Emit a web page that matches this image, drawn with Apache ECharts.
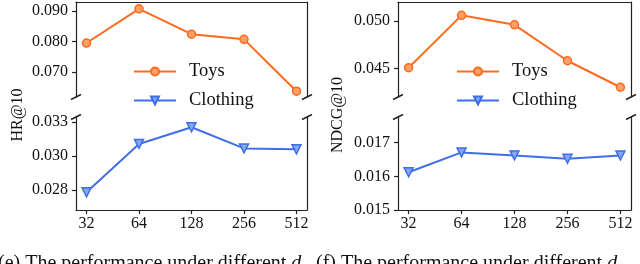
<!DOCTYPE html>
<html><head><meta charset="utf-8">
<script src="https://cdn.jsdelivr.net/npm/echarts@6/dist/echarts.min.js"></script>
<style>html,body{margin:0;padding:0;background:#fff}#c{width:640px;height:264px}</style>
</head><body><div id="c"></div>
<script>
// ---- data ----
const categories = ['32', '64', '128', '256', '512'];
const seriesNames = ['Toys', 'Clothing'];
const hrToys = [0.0795, 0.0907, 0.0824, 0.0807, 0.0637];
const hrClothing = [0.02783, 0.0314, 0.03263, 0.03107, 0.0310];
const ndcgToys = [0.04507, 0.0506, 0.0496, 0.0458, 0.0430];
const ndcgClothing = [0.01612, 0.01671, 0.01662, 0.01652, 0.01662];
const hrTopTicks = [0.070, 0.080, 0.090];
const hrTopLabels = ['0.070', '0.080', '0.090'];
const hrBottomTicks = [0.028, 0.0305, 0.033];
const hrBottomLabels = ['0.028', '0.030', '0.033'];
const ndcgTopTicks = [0.045, 0.050];
const ndcgTopLabels = ['0.045', '0.050'];
const ndcgBottomTicks = [0.015, 0.016, 0.017];
const ndcgBottomLabels = ['0.015', '0.016', '0.017'];
const yTitles = ['HR@10', 'NDCG@10'];
const captionMain = ['(e) The performance under different ', '(f) The performance under different '];
const captionVar = ['d', 'd'];

// ---- style / layout ----
const FONT = 'Liberation Serif';
const AX = '#222';
const ORANGE = '#FF6A1C';
const ORANGE_FILL = '#FFA068';
const BLUE = '#3F6FE6';
const BLUE_FILL = '#86A6F2';
const panels = [
  { left: 76, right: 307, legendLeft: 133, titleX: 18, capX: -2,
    top: { min: 0.0618, max: 0.09295, ticks: hrTopTicks, labels: hrTopLabels, toys: hrToys },
    bottom: { min: 0.02652, max: 0.03339, ticks: hrBottomTicks, labels: hrBottomLabels, cloth: hrClothing } },
  { left: 398, right: 631, legendLeft: 456, titleX: 338, capX: 316,
    top: { min: 0.04197, max: 0.05201, ticks: ndcgTopTicks, labels: ndcgTopLabels, toys: ndcgToys },
    bottom: { min: 0.015, max: 0.01776, ticks: ndcgBottomTicks, labels: ndcgBottomLabels, cloth: ndcgClothing } }
];
const TOP_Y = 2, BREAK_TOP = 97, BREAK_BOTTOM = 117, BOTTOM_Y = 210;
const xIdx = categories.map((c, i) => i);

const grid = [], xAxis = [], yAxis = [], series = [], legend = [], graphic = [];
const lineStyle = { color: AX, width: 1.2 };

function labelFor(ticks, labels) {
  return v => {
    const i = ticks.findIndex(t => Math.abs(t - v) < 1e-9);
    return i >= 0 ? labels[i] : '';
  };
}

panels.forEach((p, pi) => {
  ['top', 'bottom'].forEach(part => {
    const gi = grid.length;
    const cfg = p[part];
    grid.push({
      left: p.left, width: p.right - p.left,
      top: part === 'top' ? TOP_Y : BREAK_BOTTOM,
      height: part === 'top' ? BREAK_TOP - TOP_Y : BOTTOM_Y - BREAK_BOTTOM
    });
    const isBottom = part === 'bottom';
    xAxis.push({
      type: 'value', gridIndex: gi, min: -0.2, max: 4.2,
      position: isBottom ? 'bottom' : 'top',
      axisLine: { show: true, onZero: false, lineStyle },
      axisTick: { show: isBottom, customValues: xIdx, length: 4, lineStyle },
      axisLabel: { show: isBottom, customValues: xIdx, formatter: v => categories[Math.round(v)],
        fontFamily: FONT, fontSize: 16, color: '#111', margin: 6 },
      splitLine: { show: false }
    });
    const yi = yAxis.length;
    yAxis.push({
      type: 'value', gridIndex: gi, min: cfg.min, max: cfg.max, position: 'left',
      axisLine: { show: true, onZero: false, lineStyle },
      axisTick: { show: true, customValues: cfg.ticks, length: 4, lineStyle },
      axisLabel: { customValues: cfg.ticks, formatter: labelFor(cfg.ticks, cfg.labels),
        fontFamily: FONT, fontSize: 16, color: '#111', margin: 8 },
      splitLine: { show: false }
    });
    yAxis.push({
      type: 'value', gridIndex: gi, min: cfg.min, max: cfg.max, position: 'right',
      axisLine: { show: true, onZero: false, lineStyle },
      axisTick: { show: false }, axisLabel: { show: false }, splitLine: { show: false }
    });
    if (!isBottom) {
      series.push({
        name: seriesNames[0], type: 'line', xAxisIndex: gi, yAxisIndex: yi,
        data: cfg.toys.map((v, i) => [i, v]),
        symbol: 'circle', symbolSize: 8,
        itemStyle: { color: ORANGE_FILL, borderColor: ORANGE, borderWidth: 1.5 },
        lineStyle: { color: ORANGE, width: 2 }, z: 3
      });
    } else {
      series.push({
        name: seriesNames[1], type: 'line', xAxisIndex: gi, yAxisIndex: yi,
        data: cfg.cloth.map((v, i) => [i, v]),
        symbol: 'triangle', symbolRotate: 180, symbolSize: 9,
        itemStyle: { color: BLUE_FILL, borderColor: BLUE, borderWidth: 1.5 },
        lineStyle: { color: BLUE, width: 2 }, z: 3
      });
    }
  });
  legend.push({
    orient: 'vertical', left: p.legendLeft, top: 62, padding: 0, data: seriesNames,
    itemWidth: 42, itemHeight: 10, itemGap: 10,
    textStyle: { fontFamily: FONT, fontSize: 18.5, color: '#111', lineHeight: 18, padding: [0, 0, 0, 8] }
  });
  // break marks
  [p.left, p.right].forEach(x => {
    [BREAK_TOP, BREAK_BOTTOM].forEach(y => {
      graphic.push({ type: 'line', shape: { x1: x - 5, y1: y + 2.5, x2: x + 5, y2: y - 2.5 },
        style: { stroke: AX, lineWidth: 1.5 } });
    });
  });
  graphic.push({
    type: 'text', x: p.titleX, y: 115, rotation: Math.PI / 2,
    style: { text: yTitles[pi], font: '16px "' + FONT + '"', fill: '#111', align: 'center', verticalAlign: 'middle' }
  });
  graphic.push({
    type: 'text', x: p.capX, y: 254,
    style: {
      text: '{n|' + captionMain[pi] + '}{i|' + captionVar[pi] + '}',
      rich: { n: { fontFamily: FONT, fontSize: 20, fill: '#111' },
              i: { fontFamily: FONT, fontSize: 20, fontStyle: 'italic', fill: '#111' } },
      verticalAlign: 'top'
    }
  });
});

const chart = echarts.init(document.getElementById('c'), null, { renderer: 'canvas' });
chart.setOption({ animation: false, grid, xAxis, yAxis, series, legend, graphic });
</script></body></html>
